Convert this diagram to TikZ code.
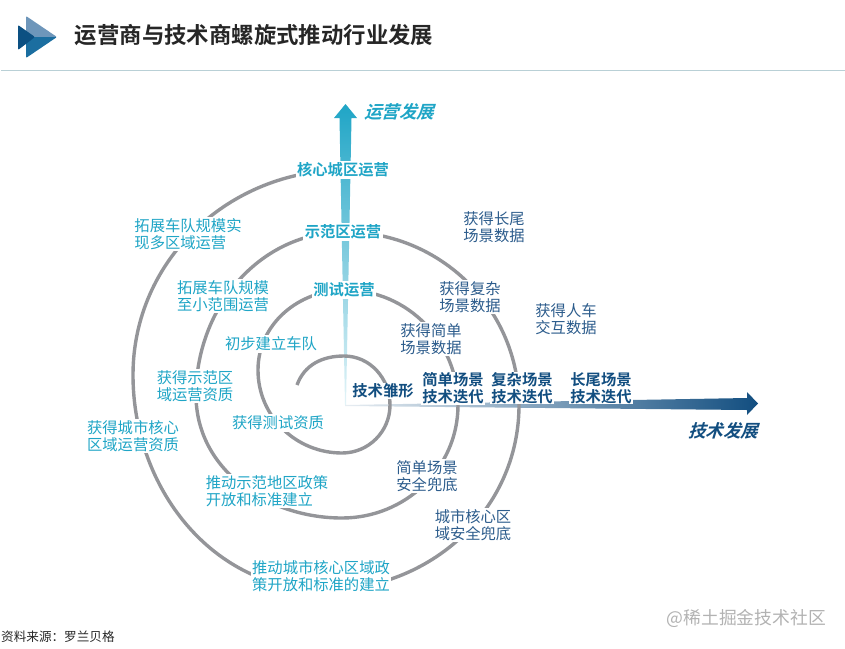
\documentclass[tikz,border=0pt]{standalone}
\usepackage{fontspec}
\usepackage{xcolor}
\usepackage{tikz}
\setmainfont{Noto Sans CJK SC}
\newfontfamily\boldcjk{Noto Sans CJK SC Bold}
\newfontfamily\slantcjk[FakeSlant=0.3]{Noto Sans CJK SC Bold}
\definecolor{tealtext}{HTML}{1FA5C6}
\definecolor{navytext}{HTML}{2C5C8C}
\definecolor{navybold}{HTML}{124E80}
\definecolor{spiralgray}{HTML}{949599}
\definecolor{logolight}{HTML}{6E96BA}
\definecolor{logomid}{HTML}{1B6EA0}
\definecolor{logodark}{HTML}{0C5082}
\definecolor{rulecolor}{HTML}{B9D0D6}
\tikzset{
	lbl/.style={fill=white,inner sep=1.5pt,align=left,font=\fontsize{15.3}{17.5}\selectfont},
	tealbl/.style={lbl,text=tealtext},
	navylbl/.style={lbl,text=navytext},
	tealhead/.style={lbl,text=tealtext,font=\fontsize{15.3}{17.5}\boldcjk},
	navyhead/.style={lbl,text=navybold,font=\fontsize{15.3}{16.5}\boldcjk,inner sep=1pt},
	spiral/.style={spiralgray,line width=3.4pt}
}
\begin{document}
\begin{tikzpicture}[x=1pt,y=-1pt]
	\useasboundingbox (0,0) rectangle (845,648);
	% header
	\fill[rounded corners=1pt,logolight] (26,16)--(57,37)--(26,37)--cycle;
	\fill[rounded corners=1pt,logomid] (26,37)--(57,37)--(26,58)--cycle;
	\fill[rounded corners=1pt,logodark] (18,25)--(35,37)--(18,50)--cycle;
	\node[text=black!85,font=\fontsize{22.4}{26}\boldcjk,inner sep=0pt] (title) at (254,35) {运营商与技术商螺旋式推动行业发展};
	\draw[rulecolor,line width=1pt] (1,70.5) -- (845,70.5);

	% axes
	\shade[top color=tealtext,bottom color=tealtext!12] (345,405)--(339.5,118)--(334,118)--(345.5,104)--(357,118)--(351.5,118)--(346,405)--cycle;
	\shade[left color=navybold!10,right color=navybold] (345,405)--(747,398)--(747,392)--(758,403.5)--(747,415)--(747,410)--(345,406)--cycle;

	% spiral
	\coordinate (s0) at (297,385);
	\coordinate (t1) at (344,356);
	\coordinate (r1) at (390,405);
	\coordinate (b1) at (342,453);
	\coordinate (l1) at (258,370);
	\coordinate (t2) at (345,290);
	\coordinate (r2) at (458,405);
	\coordinate (b2) at (342,518);
	\coordinate (l2) at (196,395);
	\coordinate (t3) at (345,232);
	\coordinate (r3) at (519,405);
	\coordinate (b3) at (325,590);
	\coordinate (l3) at (133,375);
	\coordinate (t4) at (345,170);
	\draw[spiral] (s0) to[out=70,in=180] (t1) to[out=0,in=90] (r1) to[out=-90,in=0] (b1) to[out=180,in=-90] (l1) to[out=90,in=180] (t2) to[out=0,in=90] (r2) to[out=-90,in=0] (b2) to[out=180,in=-90] (l2) to[out=90,in=180] (t3) to[out=0,in=90] (r3) to[out=-90,in=0] (b3) to[out=180,in=-90] (l3) to[out=90,in=180] (t4);

	% labels on the vertical side
	\node[text=tealtext,font=\fontsize{17.5}{20}\slantcjk,inner sep=0pt] (opdev) at (399,112) {运营发展};
	\node[tealhead] (core) at (343,170) {核心城区运营};
	\node[tealhead] (demo) at (343,232) {示范区运营};
	\node[tealhead] (testop) at (344,290) {测试运营};
	\node[tealbl] (scale3) at (188,234) {拓展车队规模实\\现多区域运营};
	\node[tealbl] (scale2) at (223,296) {拓展车队规模\\至小范围运营};
	\node[tealbl] (fleet) at (271,344) {初步建立车队};
	\node[tealbl] (permit2) at (195,386) {获得示范区\\域运营资质};
	\node[tealbl] (permit1) at (278,423) {获得测试资质};
	\node[tealbl] (permit3) at (133,436) {获得城市核心\\区域运营资质};
	\node[tealbl] (policy2) at (267,491) {推动示范地区政策\\开放和标准建立};
	\node[tealbl] (policy3) at (321,576) {推动城市核心区域政\\策开放和标准的建立};

	% labels on the horizontal side
	\node[navyhead] (seed) at (383,391) {技术雏形};
	\node[navyhead] (iter1) at (453,388) {简单场景\\技术迭代};
	\node[navyhead] (iter2) at (522,388) {复杂场景\\技术迭代};
	\node[navyhead] (iter3) at (601,388) {长尾场景\\技术迭代};
	\node[text=navybold,font=\fontsize{17.5}{20}\slantcjk,inner sep=0pt] (techdev) at (723,431) {技术发展};
	\node[navylbl] (data3) at (494,227) {获得长尾\\场景数据};
	\node[navylbl] (data2) at (470,297) {获得复杂\\场景数据};
	\node[navylbl] (data4) at (566,319) {获得人车\\交互数据};
	\node[navylbl] (data1) at (431,339) {获得简单\\场景数据};
	\node[navylbl] (safe1) at (427,476) {简单场景\\安全兜底};
	\node[navylbl] (safe2) at (473,525) {城市核心区\\域安全兜底};

	% footer
	\node[anchor=west,inner sep=0pt,text=black!85,font=\fontsize{12.6}{14}\selectfont] (source) at (1,637) {资料来源：罗兰贝格};
	\node[anchor=east,inner sep=0pt,text=black!30,font=\fontsize{17.8}{20}\selectfont] (mark) at (826,618) {@稀土掘金技术社区};
\end{tikzpicture}
\end{document}
